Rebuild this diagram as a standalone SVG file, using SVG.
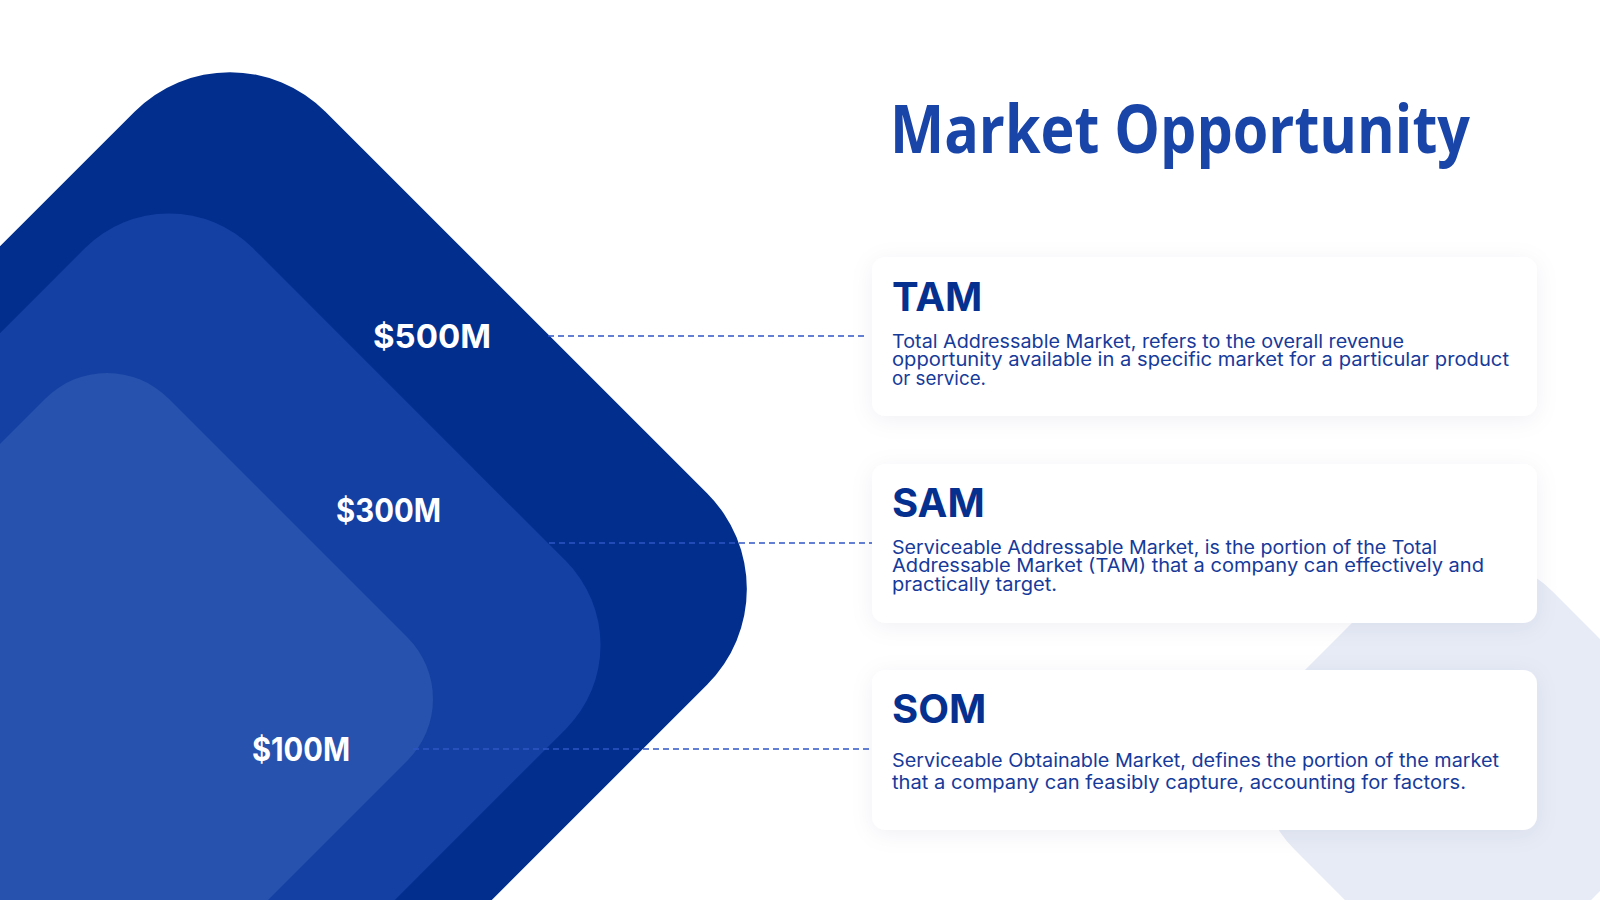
<svg xmlns="http://www.w3.org/2000/svg" width="1600" height="900" viewBox="0 0 1600 900">
<defs>
<style>
.title{font-family:"Open Sans","Liberation Sans",sans-serif;font-weight:700;font-size:66px;fill:#1a45a8}
.head{font-family:Inter,"Liberation Sans",sans-serif;font-weight:700;font-size:40px;fill:#06308f}
.body{font-family:Inter,"Liberation Sans",sans-serif;font-weight:400;font-size:18.5px;fill:#163a9a}
.val{font-family:Inter,"Liberation Sans",sans-serif;font-weight:700;font-size:32px;fill:#ffffff}
.card{fill:#ffffff;filter:url(#sh)}
.dash{stroke:#2f56c6;stroke-width:1.6;stroke-dasharray:6 4;fill:none}
</style>
<filter id="sh" x="-10%" y="-25%" width="120%" height="150%">
<feDropShadow dx="0" dy="4" stdDeviation="11" flood-color="#1a2a60" flood-opacity="0.06"/>
</filter>
</defs>
<rect width="1600" height="900" fill="#ffffff"/>
<g id="bg-shape">
<rect x="1285.5" y="582.5" width="365" height="365" rx="120" fill="#e6ebf5" transform="rotate(45 1468 765)"/>
</g>
<g id="tam-shape">
<rect x="-175" y="184" width="810" height="810" rx="135" fill="#022f8e" transform="rotate(45 230 589)"/>
</g>
<g id="sam-shape">
<rect x="-171" y="305" width="680" height="680" rx="119" fill="#1440a3" transform="rotate(45 169 645)"/>
</g>
<g id="som-shape">
<rect x="-149" y="443" width="512" height="512" rx="87" fill="#2752ad" transform="rotate(45 107 699)"/>
</g>
<g id="connectors">
<line class="dash" x1="548" y1="336" x2="868" y2="336"/>
<line class="dash" x1="549" y1="543" x2="873" y2="543"/>
<line class="dash" x1="413" y1="749" x2="876" y2="749"/>
</g>
<g id="values">
<text class="val" x="373" y="348" textLength="118" lengthAdjust="spacingAndGlyphs">$500M</text>
<text class="val" x="336" y="522" textLength="105" lengthAdjust="spacingAndGlyphs">$300M</text>
<text class="val" x="252" y="761" textLength="98" lengthAdjust="spacingAndGlyphs">$100M</text>
</g>
<g id="title">
<text class="title" x="890" y="153" textLength="580" lengthAdjust="spacingAndGlyphs">Market Opportunity</text>
</g>
<g id="tam">
<rect class="card" x="872" y="257" width="665" height="159" rx="14"/>
<text class="head" x="892" y="311">TAM</text>
<text class="body" x="892" y="348" textLength="512" lengthAdjust="spacingAndGlyphs">Total Addressable Market, refers to the overall revenue</text>
<text class="body" x="892" y="366" textLength="617" lengthAdjust="spacingAndGlyphs">opportunity available in a specific market for a particular product</text>
<text class="body" x="892" y="385" textLength="94" lengthAdjust="spacingAndGlyphs">or service.</text>
</g>
<g id="sam">
<rect class="card" x="872" y="464" width="665" height="159" rx="14"/>
<text class="head" x="892" y="517">SAM</text>
<text class="body" x="892" y="554" textLength="545" lengthAdjust="spacingAndGlyphs">Serviceable Addressable Market, is the portion of the Total</text>
<text class="body" x="892" y="572" textLength="592" lengthAdjust="spacingAndGlyphs">Addressable Market (TAM) that a company can effectively and</text>
<text class="body" x="892" y="591" textLength="165" lengthAdjust="spacingAndGlyphs">practically target.</text>
</g>
<g id="som">
<rect class="card" x="872" y="670" width="665" height="160" rx="14"/>
<text class="head" x="892" y="723">SOM</text>
<text class="body" x="892" y="767" textLength="607" lengthAdjust="spacingAndGlyphs">Serviceable Obtainable Market, defines the portion of the market</text>
<text class="body" x="892" y="789" textLength="574" lengthAdjust="spacingAndGlyphs">that a company can feasibly capture, accounting for factors.</text>
</g>
</svg>
